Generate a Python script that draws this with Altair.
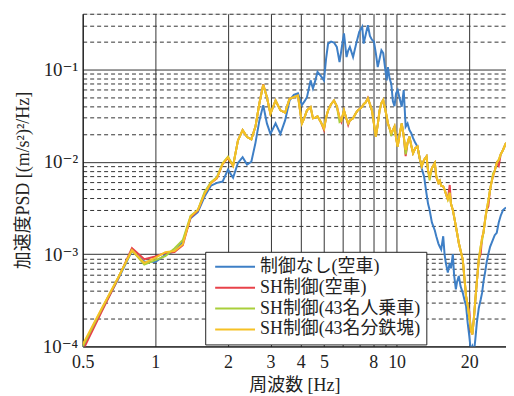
import altair as alt
import pandas as pd

# ---------------- data ----------------
FREQ = [
    0.5, 0.6, 0.7, 0.8, 0.9, 1.0, 1.1, 1.2, 1.3, 1.4,
    1.5, 1.6, 1.7, 1.8, 1.9, 2.0, 2.1, 2.2, 2.3, 2.4,
    2.5, 2.6, 2.7, 2.8, 2.9, 3.0,
    3.15, 3.3, 3.45, 3.6, 3.75, 3.9, 4.05, 4.15, 4.25, 4.4,
    4.5, 4.6, 4.7, 4.85, 5.0, 5.1, 5.2, 5.35, 5.5, 5.65,
    5.8, 5.9, 6.05, 6.2, 6.3, 6.4, 6.6, 6.8, 6.9, 7.0,
    7.2, 7.3, 7.45, 7.6, 7.75, 7.9, 8.05, 8.2, 8.35, 8.5,
    8.65, 8.8, 8.95, 9.1, 9.2, 9.35, 9.5, 9.65, 9.8, 9.95,
    10.1, 10.3, 10.5, 10.7, 10.9, 11.1, 11.3, 11.5, 11.7, 11.95,
    12.2, 12.45, 12.7, 13.0, 13.3, 13.5, 13.7, 14.0, 14.4, 14.6,
    14.9, 15.1, 15.3, 15.6, 15.8, 16.0, 16.3, 16.6, 16.8, 17.1,
    17.3, 17.6, 17.8, 18.1, 18.4, 18.8, 19.1, 19.4, 19.7, 20.0,
    20.3, 20.6, 20.9, 21.2, 21.5, 21.9, 22.3, 22.6, 22.9, 23.3,
    23.6, 24.0, 24.4, 24.7, 25.1, 25.5, 26.0, 26.5, 27.0, 27.6,
    28.4,
]

NO_CTRL = [
    0.98e-4, 2.5e-4, 5.3e-4, 1.08e-3, 8.3e-4, 8.2e-4, 9.8e-4, 1.07e-3, 1.35e-3, 2.45e-3,
    2.85e-3, 4.2e-3, 5.5e-3, 5.9e-3, 6.1e-3, 8.2e-3, 6.7e-3, 9.7e-3, 1.12e-2, 9.3e-3,
    1.0e-2, 1.6e-2, 2.8e-2, 4.1e-2, 2.6e-2, 2.0e-2,
    2.6e-2, 2.0e-2, 2.8e-2, 4.6e-2, 5.3e-2, 5.5e-2, 4.1e-2, 4.5e-2, 5.0e-2, 7.6e-2,
    6.2e-2, 7.5e-2, 9.4e-2, 8.5e-2, 7.6e-2, 1.3e-1, 1.9e-1, 2.0e-1, 1.95e-1, 1.75e-1,
    1.2e-1, 1.6e-1, 2.45e-1, 1.36e-1, 1.6e-1, 1.75e-1, 1.36e-1, 1.9e-1, 2.2e-1, 2.55e-1,
    2.9e-1, 1.9e-1, 2.4e-1, 3.0e-1, 2.3e-1, 2.1e-1, 2.0e-1, 1.5e-1, 1.06e-1, 1.3e-1,
    1.61e-1, 1.5e-1, 1.06e-1, 7.6e-2, 1.06e-1, 8.0e-2, 7.0e-2, 4.5e-2, 4.0e-2, 5.5e-2,
    5.97e-2, 4.8e-2, 3.94e-2, 5.97e-2, 2.4e-2, 2.6e-2, 2.2e-2, 2.04e-2, 1.8e-2, 1.6e-2,
    1.46e-2, 1.1e-2, 8.5e-3, 6.9e-3, 4.5e-3, 3.5e-3, 3.0e-3, 2.2e-3, 1.8e-3, 1.56e-3,
    1.3e-3, 1.2e-3, 1.12e-3, 1.56e-3, 1.0e-3, 8.0e-4, 6.3e-4, 8.0e-4, 7.0e-4, 1.0e-3,
    6.0e-4, 4.15e-4, 5.0e-4, 5.8e-4, 4.5e-4, 3.8e-4, 3.2e-4, 2.74e-4, 1.8e-4, 1.3e-4,
    0.9e-4, 1.0e-4, 0.85e-4, 1.2e-4, 1.8e-4, 2.6e-4, 3.2e-4, 3.8e-4, 5.0e-4, 6.5e-4,
    8.1e-4, 1.0e-3, 1.2e-3, 1.3e-3, 1.44e-3, 1.6e-3, 1.7e-3, 2.2e-3, 2.6e-3, 3.0e-3,
    3.2e-3,
]

SH_EMPTY = [
    0.9e-4, 2.4e-4, 5.4e-4, 1.16e-3, 8.8e-4, 9.4e-4, 1.03e-3, 1.05e-3, 1.25e-3, 2.5e-3,
    2.95e-3, 4.5e-3, 5.9e-3, 6.6e-3, 9.4e-3, 1.1e-2, 9.0e-3, 1.7e-2, 2.2e-2, 1.85e-2,
    1.75e-2, 2.4e-2, 4.3e-2, 6.9e-2, 5.0e-2, 3.3e-2,
    4.6e-2, 3.6e-2, 3.4e-2, 4.8e-2, 5.0e-2, 5.2e-2, 2.6e-2, 3.0e-2, 3.6e-2, 3.9e-2,
    2.95e-2, 3.0e-2, 3.1e-2, 2.7e-2, 2.2e-2, 3.0e-2, 3.6e-2, 4.2e-2, 4.6e-2, 4.0e-2,
    3.0e-2, 2.7e-2, 3.6e-2, 2.9e-2, 2.5e-2, 2.8e-2, 2.95e-2, 3.4e-2, 3.6e-2, 3.7e-2,
    3.95e-2, 4.2e-2, 4.4e-2, 4.9e-2, 4.2e-2, 3.6e-2, 2.6e-2, 1.87e-2, 2.5e-2, 3.6e-2,
    4.3e-2, 4.65e-2, 3.8e-2, 3.07e-2, 2.6e-2, 2.3e-2, 2.0e-2, 2.2e-2, 2.4e-2, 1.8e-2,
    1.46e-2, 2.0e-2, 2.6e-2, 1.9e-2, 1.15e-2, 1.6e-2, 1.87e-2, 1.5e-2, 1.24e-2, 1.4e-2,
    1.46e-2, 1.1e-2, 8.9e-3, 1.05e-2, 1.14e-2, 8.0e-3, 6.9e-3, 8.5e-3, 9.7e-3, 6.8e-3,
    5.9e-3, 6.2e-3, 5.5e-3, 5.4e-3, 5.0e-3, 4.5e-3, 3.9e-3, 5.6e-3, 3.5e-3, 3.0e-3,
    2.56e-3, 2.0e-3, 1.7e-3, 1.32e-3, 1.1e-3, 8.7e-4, 5.5e-4, 3.5e-4, 2.8e-4, 2.4e-4,
    1.5e-4, 1.35e-4, 2.0e-4, 3.2e-4, 5.0e-4, 8.7e-4, 1.0e-3, 1.5e-3, 1.7e-3, 2.4e-3,
    3.0e-3, 3.3e-3, 5.0e-3, 5.9e-3, 7.0e-3, 8.0e-3, 9.7e-3, 9.0e-3, 1.2e-2, 1.34e-2,
    1.6e-2,
]

SH_43_PEOPLE = [
    1.0e-4, 2.55e-4, 5.5e-4, 1.1e-3, 7.7e-4, 8.6e-4, 9.5e-4, 1.15e-3, 1.42e-3, 2.6e-3,
    3.0e-3, 4.7e-3, 6.0e-3, 6.8e-3, 9.6e-3, 1.13e-2, 9.1e-3, 1.7e-2, 2.2e-2, 1.85e-2,
    1.75e-2, 2.4e-2, 4.3e-2, 6.8e-2, 5.0e-2, 3.3e-2,
    4.6e-2, 3.6e-2, 3.4e-2, 4.8e-2, 5.0e-2, 5.2e-2, 2.6e-2, 3.0e-2, 3.6e-2, 3.9e-2,
    2.95e-2, 3.0e-2, 3.1e-2, 2.7e-2, 2.3e-2, 3.0e-2, 3.6e-2, 4.2e-2, 4.6e-2, 4.0e-2,
    2.7e-2, 2.8e-2, 3.6e-2, 2.9e-2, 2.6e-2, 2.8e-2, 2.95e-2, 3.4e-2, 3.6e-2, 3.7e-2,
    3.95e-2, 4.2e-2, 4.4e-2, 4.85e-2, 4.2e-2, 3.6e-2, 2.6e-2, 1.87e-2, 2.5e-2, 3.6e-2,
    4.3e-2, 4.65e-2, 3.8e-2, 3.07e-2, 2.6e-2, 2.3e-2, 1.9e-2, 2.2e-2, 2.4e-2, 1.8e-2,
    1.46e-2, 2.0e-2, 2.6e-2, 1.9e-2, 1.2e-2, 1.6e-2, 1.87e-2, 1.5e-2, 1.24e-2, 1.4e-2,
    1.46e-2, 1.1e-2, 8.9e-3, 1.05e-2, 1.14e-2, 8.0e-3, 6.3e-3, 8.5e-3, 9.7e-3, 7.0e-3,
    5.9e-3, 6.2e-3, 5.5e-3, 5.4e-3, 5.0e-3, 4.5e-3, 3.9e-3, 4.6e-3, 3.5e-3, 3.0e-3,
    2.56e-3, 2.0e-3, 1.7e-3, 1.32e-3, 1.1e-3, 8.7e-4, 5.5e-4, 3.5e-4, 2.8e-4, 2.1e-4,
    1.6e-4, 1.35e-4, 2.0e-4, 3.2e-4, 5.0e-4, 8.7e-4, 1.2e-3, 1.4e-3, 1.7e-3, 2.4e-3,
    3.0e-3, 3.8e-3, 5.0e-3, 5.9e-3, 7.5e-3, 8.0e-3, 9.7e-3, 1.05e-2, 1.2e-2, 1.34e-2,
    1.6e-2,
]

SH_43_WEIGHT = [
    1.05e-4, 2.6e-4, 5.5e-4, 1.1e-3, 8.0e-4, 9.1e-4, 1.05e-3, 1.08e-3, 1.28e-3, 2.55e-3,
    3.0e-3, 4.5e-3, 5.9e-3, 6.7e-3, 9.5e-3, 1.12e-2, 9.0e-3, 1.7e-2, 2.2e-2, 1.85e-2,
    1.75e-2, 2.4e-2, 4.3e-2, 6.8e-2, 5.0e-2, 3.3e-2,
    4.6e-2, 3.6e-2, 3.4e-2, 4.8e-2, 5.0e-2, 5.2e-2, 2.6e-2, 3.0e-2, 3.6e-2, 3.9e-2,
    2.95e-2, 3.0e-2, 3.1e-2, 2.7e-2, 2.3e-2, 3.0e-2, 3.6e-2, 4.2e-2, 4.6e-2, 4.0e-2,
    3.0e-2, 2.8e-2, 3.6e-2, 2.9e-2, 2.6e-2, 2.8e-2, 2.95e-2, 3.4e-2, 3.6e-2, 3.7e-2,
    3.95e-2, 4.2e-2, 4.4e-2, 4.85e-2, 4.2e-2, 3.6e-2, 2.6e-2, 1.87e-2, 2.5e-2, 3.6e-2,
    4.3e-2, 4.65e-2, 3.8e-2, 3.07e-2, 2.6e-2, 2.3e-2, 2.04e-2, 2.2e-2, 2.4e-2, 1.8e-2,
    1.46e-2, 2.0e-2, 2.6e-2, 1.9e-2, 1.34e-2, 1.6e-2, 1.87e-2, 1.5e-2, 1.24e-2, 1.4e-2,
    1.46e-2, 1.1e-2, 8.9e-3, 1.05e-2, 1.14e-2, 8.0e-3, 6.9e-3, 8.5e-3, 9.7e-3, 7.0e-3,
    5.9e-3, 6.2e-3, 5.5e-3, 5.4e-3, 5.0e-3, 4.5e-3, 3.9e-3, 4.6e-3, 3.5e-3, 3.0e-3,
    2.56e-3, 2.0e-3, 1.7e-3, 1.32e-3, 1.1e-3, 8.7e-4, 5.5e-4, 3.5e-4, 2.8e-4, 2.1e-4,
    1.5e-4, 1.35e-4, 2.0e-4, 3.2e-4, 5.0e-4, 8.7e-4, 1.2e-3, 1.5e-3, 1.7e-3, 2.4e-3,
    3.0e-3, 3.8e-3, 5.0e-3, 5.9e-3, 7.0e-3, 8.0e-3, 9.7e-3, 1.05e-2, 1.2e-2, 1.34e-2,
    1.6e-2,
]

SERIES = ["制御なし(空車)", "SH制御(空車)", "SH制御(43名人乗車)", "SH制御(43名分鉄塊)"]
COLORS = ["#3E7FC6", "#E8424A", "#A9CF3B", "#F6C125"]
VALUES = [NO_CTRL, SH_EMPTY, SH_43_PEOPLE, SH_43_WEIGHT]

X_TICKS = [0.5, 1, 2, 3, 4, 5, 6, 7, 8, 9, 10, 20]
X_HIDDEN = [6, 7, 9]
Y_MAJOR = [0.0001, 0.001, 0.01, 0.1]
Y_LABELS = ["10⁻⁴", "10⁻³", "10⁻²", "10⁻¹"]
Y_TICKS = [m * k for m in Y_MAJOR for k in range(1, 10) if m * k <= 0.4]

rows = []
for name, vals in zip(SERIES, VALUES):
    assert len(vals) == len(FREQ), (name, len(vals), len(FREQ))
    for f, v in zip(FREQ, vals):
        rows.append({"f": f, "psd": v, "s": name})
df = pd.DataFrame(rows)

SERIF = "'Liberation Serif', 'DejaVu Serif', 'Noto Sans CJK JP', serif"

ylabel_expr = " : ".join(
    f"datum.value == {m} ? '{lab}'" for m, lab in zip(Y_MAJOR, Y_LABELS)
) + " : ''"
major_test = "indexof([" + ",".join(str(m) for m in Y_MAJOR) + "], datum.value) >= 0"

x_enc = alt.X(
    "f:Q",
    scale=alt.Scale(type="log", domain=[0.5, 28.4], nice=False),
    axis=alt.Axis(
        values=X_TICKS,
        labelExpr="indexof([" + ",".join(str(v) for v in X_HIDDEN) + "], datum.value) >= 0 ? '' : format(datum.value, '~g')",
        title="周波数 [Hz]",
        grid=True,
        gridColor="#333333",
        gridWidth=1,
        ticks=False,
        labelPadding=7,
        titlePadding=5,
        labelFont=SERIF,
        titleFont=SERIF,
        labelFontSize=18,
        titleFontSize=18,
        titleFontWeight="normal",
        labelColor="#222222",
        titleColor="#222222",
        labelFlush=False,
        labelOverlap=False,
        domainColor="#111111",
    ),
)
y_enc = alt.Y(
    "psd:Q",
    scale=alt.Scale(type="log", domain=[0.0001, 0.4], nice=False),
    axis=alt.Axis(
        values=Y_TICKS,
        labelExpr=ylabel_expr,
        title="加速度PSD [(m/s²)²/Hz]",
        grid=True,
        gridColor="#333333",
        gridWidth=1,
        gridDash={"condition": {"test": "!(" + major_test + ")", "value": [4, 3]}, "value": []},
        ticks=False,
        labelPadding=5,
        titlePadding=10,
        labelFont=SERIF,
        titleFont=SERIF,
        labelFontSize=19,
        titleFontSize=18,
        titleFontWeight="normal",
        labelColor="#222222",
        titleColor="#222222",
        labelFlush=False,
        labelOverlap=False,
        domainColor="#111111",
    ),
)

color_scale = alt.Scale(domain=SERIES, range=COLORS)
legend = alt.Legend(
    title=None,
    orient="none",
    legendX=123,
    legendY=239,
    symbolType="M-1,0H7",
    symbolSize=100,
    symbolStrokeWidth=2,
    symbolFillColor="transparent",
    labelFont=SERIF,
    labelFontSize=18,
    labelColor="#222222",
    labelOffset=31,
    labelLimit=300,
    strokeColor="#222222",
    fillColor="white",
    padding=6,
    rowPadding=3,
)

layers = []
for name in SERIES:
    layers.append(
        alt.Chart(df)
        .transform_filter(alt.datum.s == name)
        .mark_line(strokeWidth=2, clip=True)
        .encode(
            x=x_enc,
            y=y_enc,
            color=alt.Color("s:N", scale=color_scale, legend=legend),
        )
    )

chart = (
    alt.layer(*layers)
    .properties(
        width=425,
        height=334,
        autosize="none",
        padding={"left": 75, "top": 5, "right": 0, "bottom": 53},
    )
    .configure_view(stroke="#111111", strokeWidth=1.2)
    .configure(background="white")
)

chart.save("out.html", embed_options={"renderer": "svg", "actions": False})
